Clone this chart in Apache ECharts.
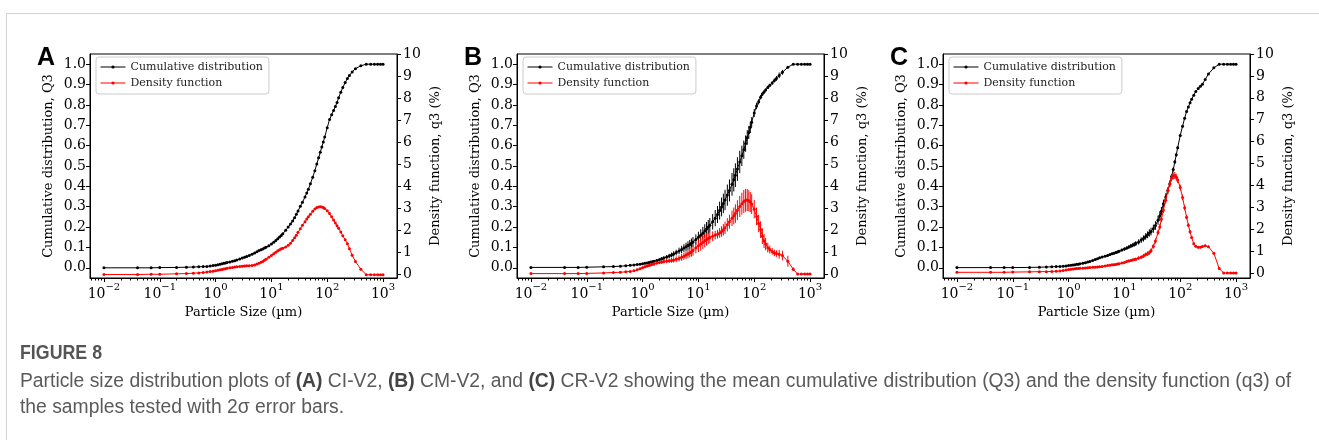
<!DOCTYPE html>
<html><head><meta charset="utf-8">
<script src="https://cdn.jsdelivr.net/npm/echarts@6/dist/echarts.min.js"></script>
<style>
html,body{margin:0;padding:0;background:#fff;}
#frame{position:absolute;left:6px;top:13px;width:1313px;height:427px;border-left:1px solid #d2d2d2;border-top:1px solid #d2d2d2;box-sizing:border-box;}
#c{position:absolute;left:0;top:0;width:1319px;height:440px;}
</style></head>
<body><div id="frame"></div><div id="c"></div>
<script>
// ---------------- DATA ----------------
const sizes = [0.01,0.04,0.07,0.1,0.2,0.3,0.4,0.5,0.6,0.7,0.8,0.9,
  1,1.1,1.2,1.3,1.4,1.5,1.6,1.8,2,2.2,2.4,2.7,3,3.3,3.6,4,4.5,5,5.5,6,6.5,7,7.5,8,9,
  10,11,12,13,14,15,16,18,20,22,24,26,28,30,33,36,40,43,46,50,55,60,65,70,75,80,85,90,100,
  110,120,130,140,150,160,175,190,210,230,250,280,320,400,
  500,600,700,800,900,1000];

const cumA = [0,0,0,0.001,0.002,0.003,0.004,0.005,0.006,0.007,0.009,0.011,
  0.013,0.015,0.018,0.020,0.022,0.024,0.026,0.029,0.032,0.035,0.038,0.043,0.048,0.052,0.056,0.061,0.067,0.073,0.079,0.085,0.089,0.093,0.097,0.101,0.108,
  0.117,0.125,0.134,0.143,0.151,0.159,0.167,0.184,0.200,0.215,0.230,0.246,0.263,0.279,0.302,0.322,0.348,0.368,0.386,0.413,0.445,0.477,0.510,0.540,0.567,0.593,0.618,0.642,0.688,
  0.728,0.752,0.772,0.792,0.812,0.835,0.862,0.885,0.910,0.930,0.945,0.962,0.978,0.992,
  1,1,1,1,1,1];
const cumAErr = [0,0,0,0,0,0,0,0,0,0,0,0,
  0.001,0.001,0.001,0.001,0.001,0.001,0.001,0.001,0.001,0.001,0.001,0.001,0.001,0.001,0.001,0.001,0.001,0.001,0.001,0.001,0.001,0.002,0.002,0.002,0.002,
  0.002,0.002,0.002,0.002,0.003,0.003,0.003,0.003,0.003,0.003,0.003,0.003,0.003,0.003,0.003,0.003,0.003,0.003,0.003,0.003,0.003,0.003,0.003,0.003,0.003,0.003,0.003,0.003,0.003,
  0.002,0.002,0.002,0.002,0.002,0.002,0.002,0.002,0.002,0.002,0.002,0.002,0.001,0.001,
  0,0,0,0,0,0];
const denA = [0.01,0.01,0.02,0.02,0.04,0.05,0.07,0.08,0.10,0.12,0.14,0.16,
  0.18,0.20,0.22,0.24,0.26,0.27,0.29,0.31,0.33,0.35,0.36,0.37,0.38,0.39,0.40,0.41,0.42,0.44,0.48,0.52,0.56,0.60,0.65,0.70,0.79,
  0.87,0.95,1.02,1.08,1.13,1.17,1.20,1.26,1.33,1.43,1.55,1.67,1.79,1.92,2.08,2.24,2.40,2.52,2.62,2.74,2.87,2.98,3.04,3.07,3.08,3.07,3.04,3.00,2.90,
  2.77,2.62,2.48,2.34,2.22,2.10,1.93,1.76,1.58,1.40,1.18,0.88,0.60,0.25,
  0,0,0,0,0,0];
const denAErr = [0,0,0,0,0.01,0.01,0.01,0.01,0.01,0.01,0.01,0.01,
  0.01,0.01,0.01,0.01,0.01,0.01,0.01,0.01,0.01,0.01,0.01,0.01,0.01,0.01,0.01,0.01,0.01,0.02,0.02,0.02,0.02,0.02,0.02,0.02,0.02,
  0.03,0.03,0.03,0.03,0.03,0.03,0.03,0.03,0.03,0.03,0.03,0.03,0.03,0.03,0.03,0.03,0.03,0.03,0.03,0.03,0.03,0.03,0.03,0.03,0.03,0.03,0.03,0.03,0.03,
  0.03,0.03,0.03,0.03,0.03,0.03,0.03,0.03,0.03,0.03,0.03,0.03,0.02,0.02,
  0,0,0,0,0,0];

const cumB = [0.002,0.002,0.002,0.003,0.005,0.006,0.008,0.010,0.012,0.014,0.016,0.018,
  0.020,0.022,0.024,0.026,0.028,0.030,0.032,0.036,0.040,0.044,0.048,0.053,0.058,0.063,0.068,0.075,0.083,0.090,0.097,0.103,0.109,0.115,0.121,0.127,0.139,
  0.150,0.160,0.170,0.181,0.191,0.200,0.209,0.226,0.244,0.262,0.281,0.299,0.316,0.333,0.357,0.380,0.410,0.432,0.455,0.485,0.520,0.550,0.580,0.610,0.640,0.665,0.690,0.715,0.760,
  0.795,0.815,0.838,0.853,0.863,0.873,0.886,0.896,0.908,0.920,0.930,0.945,0.960,0.985,
  1,1,1,1,1,1];
const cumBErr = [0,0,0,0,0.001,0.001,0.001,0.002,0.002,0.002,0.002,0.003,
  0.003,0.003,0.004,0.004,0.004,0.005,0.005,0.006,0.007,0.008,0.009,0.010,0.011,0.012,0.013,0.014,0.016,0.018,0.019,0.020,0.021,0.022,0.023,0.024,0.025,
  0.027,0.029,0.031,0.033,0.034,0.035,0.036,0.038,0.040,0.042,0.044,0.046,0.048,0.050,0.052,0.054,0.056,0.057,0.058,0.058,0.055,0.050,0.045,0.040,0.036,0.032,0.028,0.025,0.020,
  0.016,0.013,0.011,0.010,0.009,0.008,0.008,0.008,0.009,0.010,0.012,0.014,0.012,0.006,
  0,0,0,0,0,0];
const denB = [0.02,0.02,0.02,0.03,0.05,0.07,0.08,0.10,0.12,0.15,0.19,0.24,
  0.29,0.33,0.36,0.39,0.42,0.44,0.46,0.50,0.53,0.55,0.57,0.59,0.60,0.62,0.64,0.67,0.71,0.76,0.81,0.86,0.91,0.96,1.01,1.07,1.20,
  1.28,1.36,1.44,1.51,1.57,1.62,1.66,1.72,1.77,1.81,1.87,1.93,2.01,2.10,2.24,2.38,2.53,2.64,2.75,2.90,3.07,3.20,3.30,3.35,3.36,3.33,3.27,3.18,2.95,
  2.62,2.30,2.02,1.72,1.50,1.36,1.20,1.11,1.03,0.96,0.93,0.90,0.84,0.58,
  0.22,0,0,0,0,0];
const denBErr = [0,0,0,0,0.02,0.02,0.03,0.03,0.04,0.04,0.05,0.05,
  0.06,0.06,0.06,0.07,0.07,0.07,0.08,0.08,0.08,0.09,0.09,0.10,0.10,0.11,0.12,0.13,0.14,0.16,0.17,0.18,0.19,0.20,0.22,0.24,0.26,
  0.28,0.30,0.30,0.30,0.28,0.26,0.24,0.22,0.20,0.20,0.22,0.24,0.26,0.28,0.30,0.32,0.35,0.38,0.42,0.45,0.48,0.50,0.52,0.52,0.50,0.48,0.46,0.45,0.42,
  0.40,0.40,0.38,0.36,0.32,0.28,0.22,0.18,0.15,0.15,0.15,0.20,0.22,0.25,
  0.08,0,0,0,0,0];

const cumC = [0.001,0.001,0.001,0.001,0.002,0.003,0.004,0.005,0.006,0.007,0.008,0.009,
  0.011,0.012,0.014,0.015,0.017,0.018,0.020,0.022,0.025,0.028,0.031,0.036,0.041,0.045,0.049,0.053,0.057,0.061,0.065,0.069,0.072,0.075,0.078,0.081,0.087,
  0.092,0.097,0.102,0.107,0.111,0.115,0.119,0.127,0.136,0.144,0.154,0.162,0.171,0.178,0.192,0.208,0.234,0.255,0.278,0.315,0.348,0.380,0.412,0.448,0.483,0.520,0.555,0.590,0.650,
  0.695,0.735,0.768,0.790,0.810,0.828,0.848,0.866,0.880,0.892,0.902,0.925,0.952,0.982,
  1,1,1,1,1,1];
const cumCErr = [0,0,0,0,0,0,0,0,0,0,0,0,
  0.001,0.001,0.001,0.001,0.001,0.001,0.001,0.002,0.002,0.002,0.002,0.003,0.003,0.003,0.004,0.004,0.004,0.005,0.005,0.005,0.006,0.006,0.006,0.007,0.007,
  0.008,0.008,0.009,0.010,0.010,0.011,0.012,0.013,0.014,0.015,0.016,0.017,0.018,0.019,0.020,0.021,0.022,0.022,0.021,0.020,0.018,0.016,0.014,0.012,0.011,0.010,0.009,0.008,0.007,
  0.006,0.005,0.005,0.004,0.004,0.004,0.003,0.003,0.003,0.003,0.003,0.003,0.003,0.002,
  0,0,0,0,0,0];
const denC = [0.03,0.03,0.03,0.04,0.05,0.06,0.06,0.07,0.08,0.09,0.11,0.13,
  0.16,0.17,0.18,0.19,0.20,0.20,0.21,0.22,0.23,0.24,0.25,0.26,0.26,0.27,0.28,0.30,0.32,0.34,0.35,0.37,0.38,0.39,0.41,0.42,0.45,
  0.48,0.52,0.55,0.57,0.59,0.61,0.63,0.68,0.72,0.78,0.84,0.88,0.93,1.02,1.22,1.46,1.85,2.10,2.45,2.88,3.32,3.75,4.08,4.33,4.43,4.45,4.37,4.25,3.90,
  3.45,2.98,2.55,2.18,1.88,1.62,1.33,1.22,1.17,1.18,1.21,1.24,1.20,0.90,
  0.20,0,0,0,0,0];
const denCErr = [0,0,0,0,0.01,0.01,0.01,0.01,0.01,0.01,0.01,0.01,
  0.02,0.02,0.02,0.02,0.02,0.02,0.02,0.02,0.02,0.02,0.03,0.03,0.03,0.03,0.03,0.03,0.03,0.03,0.03,0.03,0.04,0.04,0.04,0.04,0.04,
  0.05,0.05,0.06,0.06,0.06,0.07,0.07,0.08,0.08,0.09,0.09,0.10,0.10,0.10,0.11,0.12,0.12,0.13,0.13,0.14,0.15,0.15,0.16,0.16,0.16,0.16,0.15,0.15,0.14,
  0.13,0.12,0.10,0.09,0.08,0.07,0.06,0.05,0.05,0.05,0.05,0.05,0.05,0.04,
  0.02,0,0,0,0,0];

const xMajorTicks = [0.01,0.1,1,10,100,1000];
const xMinorTicks = [0.006,0.007,0.008,0.009,
  0.02,0.03,0.04,0.05,0.06,0.07,0.08,0.09,
  0.2,0.3,0.4,0.5,0.6,0.7,0.8,0.9,
  2,3,4,5,6,7,8,9,
  20,30,40,50,60,70,80,90,
  200,300,400,500,600,700,800,900];
const cumTicks = [0,0.1,0.2,0.3,0.4,0.5,0.6,0.7,0.8,0.9,1.0];
const denTicks = [0,1,2,3,4,5,6,7,8,9,10];
const panelLetters = ['A','B','C'];
const denAxisMin = [-0.15,-0.18,-0.23];
const seriesNames = ['Cumulative distribution','Density function'];
const xTitle = 'Particle Size (\u00b5m)';
const yLeftTitle = 'Cumulative distribution, Q3';
const yRightTitle = 'Density function, q3 (%)';
const captionHead = 'FIGURE 8';
const captionLine1 = 'Particle size distribution plots of {b|(A)} CI-V2, {b|(B)} CM-V2, and {b|(C)} CR-V2 showing the mean cumulative distribution (Q3) and the density function (q3) of';
const captionLine2 = 'the samples tested with 2\u03c3 error bars.';

const panels = [
  {cum: cumA, cumErr: cumAErr, den: denA, denErr: denAErr},
  {cum: cumB, cumErr: cumBErr, den: denB, denErr: denBErr},
  {cum: cumC, cumErr: cumCErr, den: denC, denErr: denCErr}
];

// ---------------- LAYOUT ----------------
const FONT = '"DejaVu Serif", serif';
const CAP_FONT = '"Liberation Sans", Arial, sans-serif';
const gridLefts = [90, 517, 943];
const GRID_TOP = 54, GRID_W = 307, GRID_H = 224;
const XMIN = Math.pow(10, -2.25), XMAX = Math.pow(10, 3.25);

const chart = echarts.init(document.getElementById('c'), null, {renderer: 'canvas'});

function errItem(color) {
  return function (params, api) {
    const x = api.value(0), y = api.value(1), e = api.value(2);
    if (!e) return null;
    const p1 = api.coord([x, y - e]), p2 = api.coord([x, y + e]);
    return {type: 'line', shape: {x1: p1[0], y1: p1[1], x2: p2[0], y2: p2[1]},
      style: {stroke: color, lineWidth: 1}};
  };
}

const grid = [], xAxis = [], yAxis = [], series = [], legend = [], graphic = [];
panels.forEach((p, i) => {
  grid.push({left: gridLefts[i], top: GRID_TOP, width: GRID_W, height: GRID_H,
    show: true, borderColor: '#000', borderWidth: 1, backgroundColor: 'transparent'});
  xAxis.push({type: 'log', logBase: 10, gridIndex: i, min: XMIN, max: XMAX, position: 'bottom',
    name: xTitle, nameLocation: 'middle', nameGap: 26,
    nameTextStyle: {fontFamily: FONT, fontSize: 13, color: '#000'},
    axisLine: {show: true, onZero: false, lineStyle: {color: '#000', width: 1}},
    axisTick: {show: true, customValues: xMajorTicks, length: 4, lineStyle: {color: '#000'}},
    axisLabel: {customValues: xMajorTicks, margin: 4,
      formatter: function (v) {
        const e = Math.round(Math.log10(v));
        return '{b|10}{s|' + (e < 0 ? '\u2212' + (-e) : String(e)) + '}';
      },
      rich: {
        b: {fontFamily: FONT, fontSize: 14, color: '#000', lineHeight: 19, verticalAlign: 'bottom'},
        s: {fontFamily: FONT, fontSize: 10, color: '#000', lineHeight: 11, verticalAlign: 'top'}
      }},
    splitLine: {show: false}});
  xAxis.push({type: 'log', logBase: 10, gridIndex: i, min: XMIN, max: XMAX, position: 'bottom',
    axisLine: {show: false, onZero: false},
    axisTick: {show: true, customValues: xMinorTicks, length: 2.5, lineStyle: {color: '#000'}},
    axisLabel: {show: false}, splitLine: {show: false}});
  yAxis.push({type: 'value', gridIndex: i, min: -0.05, max: 1.05, position: 'left',
    name: yLeftTitle, nameLocation: 'middle', nameGap: 35,
    nameTextStyle: {fontFamily: FONT, fontSize: 13, color: '#000'},
    axisLine: {show: true, lineStyle: {color: '#000'}},
    axisTick: {show: true, customValues: cumTicks, length: 4, lineStyle: {color: '#000'}},
    axisLabel: {customValues: cumTicks, margin: 4, fontFamily: FONT, fontSize: 14, color: '#000',
      formatter: v => v.toFixed(1)},
    splitLine: {show: false}});
  yAxis.push({type: 'value', gridIndex: i, min: denAxisMin[i], max: 10, position: 'right',
    name: yRightTitle, nameLocation: 'middle', nameGap: 32,
    nameTextStyle: {fontFamily: FONT, fontSize: 13, color: '#000'},
    axisLine: {show: true, lineStyle: {color: '#000'}},
    axisTick: {show: true, customValues: denTicks, length: 4, lineStyle: {color: '#000'}},
    axisLabel: {customValues: denTicks, margin: 6, fontFamily: FONT, fontSize: 14, color: '#000',
      formatter: v => String(Math.round(v))},
    splitLine: {show: false}});

  const xi = i * 2, yl = i * 2, yr = i * 2 + 1;
  series.push({type: 'custom', name: 'cumErr' + i, xAxisIndex: xi, yAxisIndex: yl, z: 2,
    renderItem: errItem('#000'), encode: {x: 0, y: 1},
    data: sizes.map((s, k) => [s, p.cum[k], p.cumErr[k]])});
  series.push({type: 'line', name: seriesNames[0], xAxisIndex: xi, yAxisIndex: yl, z: 3,
    symbol: 'circle', symbolSize: 3, showSymbol: true,
    lineStyle: {color: '#000', width: 1}, itemStyle: {color: '#000'},
    data: sizes.map((s, k) => [s, p.cum[k]])});
  series.push({type: 'custom', name: 'denErr' + i, xAxisIndex: xi, yAxisIndex: yr, z: 4,
    renderItem: errItem('#ff0000'), encode: {x: 0, y: 1},
    data: sizes.map((s, k) => [s, p.den[k], p.denErr[k]])});
  series.push({type: 'line', name: seriesNames[1], xAxisIndex: xi, yAxisIndex: yr, z: 5,
    symbol: 'circle', symbolSize: 3, showSymbol: true,
    lineStyle: {color: '#ff0000', width: 1}, itemStyle: {color: '#ff0000'},
    data: sizes.map((s, k) => [s, p.den[k]])});

  legend.push({data: seriesNames, orient: 'vertical', left: gridLefts[i] + 6, top: GRID_TOP + 3,
    itemWidth: 25, itemHeight: 4, itemGap: 4, padding: [4, 6, 5, 4],
    borderColor: '#cccccc', borderWidth: 1, borderRadius: 3, backgroundColor: '#fff',
    selectedMode: false, lineStyle: {width: 1},
    textStyle: {fontFamily: FONT, fontSize: 11, color: '#222', lineHeight: 12}});

  graphic.push({type: 'text', style: {text: panelLetters[i], x: gridLefts[i] - 53, y: 58,
    font: 'bold 25px "Liberation Sans", Arial, sans-serif', fill: '#000', verticalAlign: 'middle', align: 'left'}});
});

graphic.push({type: 'text', x: 20, y: 353, scaleX: 0.89, style: {text: captionHead, x: 0, y: 0,
  font: 'bold 20px ' + CAP_FONT, fill: '#555', verticalAlign: 'middle'}});
graphic.push({type: 'text', x: 20, y: 381, scaleX: 0.965, style: {
  text: captionLine1, x: 0, y: 0, font: '20px ' + CAP_FONT, fill: '#5a5a5a', verticalAlign: 'middle',
  rich: {b: {fontWeight: 'bold', fontSize: 20, fontFamily: CAP_FONT, fill: '#444'}}}});
graphic.push({type: 'text', x: 20, y: 407, scaleX: 0.965, style: {text: captionLine2, x: 0, y: 0,
  font: '20px ' + CAP_FONT, fill: '#5a5a5a', verticalAlign: 'middle'}});

chart.setOption({animation: false, backgroundColor: 'transparent',
  grid, xAxis, yAxis, series, legend, graphic});
</script>
</body></html>
